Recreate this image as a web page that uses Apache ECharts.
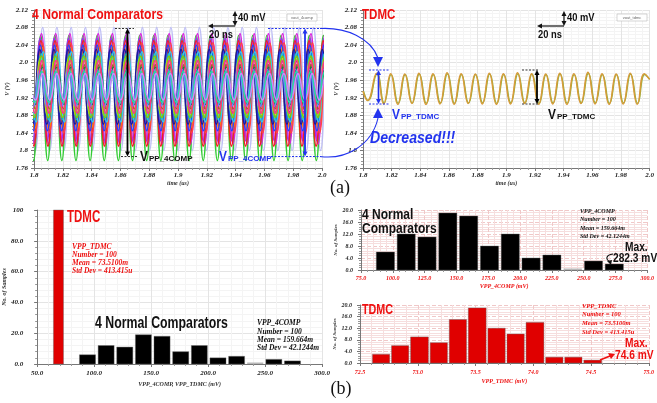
<!DOCTYPE html>
<html><head><meta charset="utf-8">
<script src="https://cdn.jsdelivr.net/npm/echarts@6/dist/echarts.min.js"></script>
<style>html,body{margin:0;padding:0;background:#fff}#c{width:657px;height:403px}</style>
</head><body><div id="c"></div>
<script>
// ================= DATA =================
// waveform axes tick labels
const waveXTicks = ['1.8','1.82','1.84','1.86','1.88','1.9','1.92','1.94','1.96','1.98','2.0'];
const waveYTicks = ['1.76','1.8','1.84','1.88','1.92','1.96','2.0','2.04','2.08','2.12'];
// 4 normal comparators: Monte-Carlo traces (peak level, trough level, first-peak time after 1.8us [ns], period [ns])
const comp4Hi     = [2.080,2.062,2.066,2.055,2.050,2.045,2.035,2.040,2.030,2.020,2.010,2.025,2.000,1.995,2.015,1.990,1.985,2.005,1.980,1.975];
const comp4Lo     = [1.800,1.777,1.815,1.822,1.810,1.840,1.850,1.845,1.860,1.870,1.880,1.865,1.890,1.895,1.875,1.905,1.900,1.885,1.910,1.915];
const comp4PeakNs = [6.0,4.6,5.2,4.2,4.8,5.8,5.5,4.4,4.0,5.0,4.5,6.4,4.7,5.9,5.1,6.2,4.3,5.6,5.3,6.0];
const comp4PerNs  = [9.90,9.82,9.85,9.86,9.80,9.87,9.83,9.85,9.81,9.83,9.86,9.80,9.84,9.82,9.85,9.81,9.84,9.82,9.83,9.85];
// TDMC waveform: start-up samples, then successive peaks / troughs
const tdmcLeadT = [1.8, 1.8032];
const tdmcLeadV = [1.935, 1.914];
const tdmcFirstPeakT = 1.8095;
const tdmcPeriodUs = 0.00983;
const tdmcPeakV   = [1.976,1.975,1.974,1.976,1.975,1.977,1.975,1.974,1.976,1.975,1.977,1.975,1.974,1.976,1.975,1.978,1.975,1.974,1.976,1.975];
const tdmcTroughV = [1.906,1.905,1.907,1.905,1.906,1.905,1.907,1.906,1.905,1.906,1.907,1.905,1.906,1.905,1.907,1.906,1.905,1.906,1.905];
const tdmcPeakV2  = [1.974,1.973,1.973,1.974,1.973,1.975,1.973,1.973,1.974,1.973,1.975,1.974,1.973,1.974,1.973,1.976,1.973,1.973,1.974,1.973];
const tdmcTroughV2= [1.908,1.907,1.908,1.907,1.908,1.907,1.908,1.908,1.907,1.908,1.908,1.907,1.908,1.907,1.908,1.908,1.907,1.908,1.907];
const tdmcEndT = 2.0, tdmcEndV = 1.962;
// histograms
const histEdges4comp  = [86.0,102.4,118.7,135.1,151.4,167.8,184.2,200.5,216.9,233.2,249.6,265.9,282.3];
const histCounts4comp = [6,12,11,19,18,8,12,4,5,0,3,2];
const histEdgesTdmc   = [72.60,72.765,72.93,73.10,73.265,73.43,73.60,73.765,73.93,74.10,74.265,74.43,74.60];
const histCountsTdmc  = [3,6,9,7,15,19,12,10,14,2,2,1];
const histEdgesTdmcAll  = [64.3,73.1];
const histCountsTdmcAll = [100];
const histAllXTicks  = ['50.0','100.0','150.0','200.0','250.0','300.0'];
const histAllYTicks  = ['0.0','20.0','40.0','60.0','80.0','100'];
const hist4XTicks    = ['75.0','100.0','125.0','150.0','175.0','200.0','225.0','250.0','275.0','300.0'];
const histSmYTicks   = ['0.0','4.0','8.0','12.0','16.0','20.0'];
const histTdmcXTicks = ['72.5','73.0','73.5','74.0','74.5','75.0'];
const stats4 = ['VPP_4COMP','Number = 100','Mean = 159.664m','Std Dev = 42.1244m'];
const statsT = ['VPP_TDMC','Number = 100','Mean = 73.5100m','Std Dev = 413.415u'];

// ================= STYLE =================
const comp4Colors = ['#b4b4f4','#33cc33','#dd22dd','#9933ee','#ee2222','#ff4444','#ff8800','#2244ff','#1a1a99','#11aaaa','#dddd22','#33ccee','#ff77bb','#aa6622','#88cc00','#118844','#6688ff','#ff3388','#22ddaa','#cc88ff'];
const RED = '#ee1111', BLUE = '#2233ee';
const serifLbl = {fontFamily:'Liberation Serif', fontStyle:'italic', fontWeight:'bold', fontSize:7, color:'#222'};

// ================= BUILD =================
function compTrace(i) {
  const pts = [];
  const per = comp4PerNs[i] / 1000, half = per / 2;
  let t = 1.8 + comp4PeakNs[i] / 1000 - per;
  for (let k = 0; t <= 2.012; k++, t += half) pts.push([t, k % 2 === 0 ? comp4Hi[i] : comp4Lo[i]]);
  return pts;
}
function tdmcTrace(pk, tr, dt) {
  const pts = tdmcLeadT.map((t, i) => [t + dt, tdmcLeadV[i]]);
  pk.forEach((v, i) => {
    pts.push([tdmcFirstPeakT + i * tdmcPeriodUs + dt, v]);
    if (i < tr.length) pts.push([tdmcFirstPeakT + (i + 0.5) * tdmcPeriodUs + dt, tr[i]]);
  });
  pts.push([tdmcEndT, tdmcEndV]);
  return pts;
}
function bins(edges, counts) { return counts.map((c, i) => [edges[i], edges[i + 1], c]); }
function histRender(fill, gap) {
  return function (params, api) {
    const x0 = api.value(0), x1 = api.value(1), n = api.value(2);
    const p0 = api.coord([x0, 0]), p1 = api.coord([x1, n]);
    const w = p1[0] - p0[0] - gap;
    if (n === 0) return {type:'rect', shape:{x:p0[0] + gap / 2, y:p0[1] - 1.5, width:w, height:1.5}, style:{fill:'#b8b8b8'}};
    return {type:'rect', shape:{x:p0[0] + gap / 2, y:p1[1], width:w, height:p0[1] - p1[1]}, style:{fill:fill, stroke:'#666', lineWidth:0.4}};
  };
}
function tickFmt(labels, min, step) { return v => labels[Math.round((v - min) / step)] || ''; }

function valAxis(o) {
  return Object.assign({
    type:'value',
    axisLine:{show:true, lineStyle:{color:'#777', width:1}},
    axisTick:{show:true, length:3, lineStyle:{color:'#777'}},
    minorTick:{show:true, splitNumber:5, length:2, lineStyle:{color:'#999'}},
    splitLine:{show:true, lineStyle:{color:'#e4e4e4', width:1}},
    minorSplitLine:{show:true, lineStyle:{color:'#f4f4f4', width:1}},
    nameTextStyle:{fontFamily:'Liberation Serif', fontStyle:'italic', fontWeight:'bold', fontSize:6, color:'#333'},
    nameLocation:'middle'
  }, o);
}

const grids = [
  {left:34, top:10, width:288, height:158},
  {left:363, top:10, width:289, height:158},
  {left:37, top:210, width:285, height:154},
  {left:361, top:210, width:291, height:60},
  {left:360, top:305, width:292, height:58}
];

const xAxes = [
  valAxis({gridIndex:0, min:1.8, max:2.0, interval:0.02, axisLabel:Object.assign({formatter:tickFmt(waveXTicks,1.8,0.02), margin:4}, serifLbl), minorTick:{show:true,splitNumber:4,length:2,lineStyle:{color:'#999'}}, name:'time (us)', nameGap:12}),
  valAxis({gridIndex:1, min:1.8, max:2.0, interval:0.02, axisLabel:Object.assign({formatter:tickFmt(waveXTicks,1.8,0.02), margin:4}, serifLbl), minorTick:{show:true,splitNumber:4,length:2,lineStyle:{color:'#999'}}, name:'time (us)', nameGap:12}),
  valAxis({gridIndex:2, min:50, max:300, interval:50, axisLabel:Object.assign({formatter:tickFmt(histAllXTicks,50,50), margin:6}, serifLbl), name:'VPP_4COMP, VPP_TDMC (mV)', nameGap:17}),
  valAxis({gridIndex:3, min:75, max:300, interval:25, axisLabel:Object.assign({formatter:tickFmt(hist4XTicks,75,25), margin:5}, serifLbl, {color:RED, fontSize:6}), name:'VPP_4COMP (mV)', nameGap:13, nameTextStyle:{fontFamily:'Liberation Serif',fontStyle:'italic',fontWeight:'bold',fontSize:6,color:RED}, minorSplitLine:{show:true,lineStyle:{color:'#f6dede'}}, splitLine:{lineStyle:{color:'#f0c8c8',type:'dashed'}}}),
  valAxis({gridIndex:4, min:72.5, max:75, interval:0.5, axisLabel:Object.assign({formatter:tickFmt(histTdmcXTicks,72.5,0.5), margin:6}, serifLbl, {color:RED, fontSize:6}), name:'VPP_TDMC (mV)', nameGap:15, nameTextStyle:{fontFamily:'Liberation Serif',fontStyle:'italic',fontWeight:'bold',fontSize:6,color:RED}, minorSplitLine:{show:true,lineStyle:{color:'#f6dede'}}, splitLine:{lineStyle:{color:'#f0c8c8',type:'dashed'}}})
];
const yAxes = [
  valAxis({gridIndex:0, min:1.76, max:2.12, interval:0.04, axisLabel:Object.assign({formatter:tickFmt(waveYTicks,1.76,0.04), margin:6}, serifLbl), name:'V (V)', nameGap:24}),
  valAxis({gridIndex:1, min:1.76, max:2.12, interval:0.04, axisLabel:Object.assign({formatter:tickFmt(waveYTicks,1.76,0.04), margin:6}, serifLbl), name:'V (V)', nameGap:24}),
  valAxis({gridIndex:2, min:0, max:100, interval:20, axisLabel:Object.assign({formatter:tickFmt(histAllYTicks,0,20), margin:14}, serifLbl), name:'No. of Samples', nameGap:27}),
  valAxis({gridIndex:3, min:0, max:20, interval:4, axisLabel:Object.assign({formatter:tickFmt(histSmYTicks,0,4), margin:8}, serifLbl, {fontSize:6}), name:'No. of Samples', nameGap:22, nameTextStyle:{fontFamily:'Liberation Serif',fontStyle:'italic',fontWeight:'bold',fontSize:5,color:'#333'}, minorSplitLine:{show:true,lineStyle:{color:'#f6dede'}}, splitLine:{lineStyle:{color:'#f0c8c8',type:'dashed'}}}),
  valAxis({gridIndex:4, min:0, max:20, interval:4, axisLabel:Object.assign({formatter:tickFmt(histSmYTicks,0,4), margin:8}, serifLbl, {fontSize:6}), name:'No. of Samples', nameGap:22, nameTextStyle:{fontFamily:'Liberation Serif',fontStyle:'italic',fontWeight:'bold',fontSize:5,color:'#333'}, minorSplitLine:{show:true,lineStyle:{color:'#f6dede'}}, splitLine:{lineStyle:{color:'#f0c8c8',type:'dashed'}}})
];

const series = [];
comp4Hi.forEach((_, i) => series.push({
  type:'line', xAxisIndex:0, yAxisIndex:0, data:compTrace(i), smooth:0.5, symbol:'none', clip:true,
  lineStyle:{color:comp4Colors[i], width:1.6, opacity:i === 0 ? 0.85 : 1}, silent:true, animation:false
}));
series.push({type:'line', xAxisIndex:1, yAxisIndex:1, data:tdmcTrace(tdmcPeakV2, tdmcTroughV2, 0.0003), smooth:0.5, symbol:'none', lineStyle:{color:'#8cb43c', width:1.5}, animation:false});
series.push({type:'line', xAxisIndex:1, yAxisIndex:1, data:tdmcTrace(tdmcPeakV, tdmcTroughV, 0), smooth:0.5, symbol:'none', lineStyle:{color:'#d89a3a', width:1.5}, animation:false});
series.push({type:'custom', xAxisIndex:2, yAxisIndex:2, data:bins(histEdgesTdmcAll, histCountsTdmcAll), renderItem:histRender('#e00000', 0), encode:{x:[0,1], y:2}, animation:false});
series.push({type:'custom', xAxisIndex:2, yAxisIndex:2, data:bins(histEdges4comp, histCounts4comp), renderItem:histRender('#000', 2.6), encode:{x:[0,1], y:2}, animation:false});
series.push({type:'custom', xAxisIndex:3, yAxisIndex:3, data:bins(histEdges4comp, histCounts4comp), renderItem:histRender('#000', 2.6), encode:{x:[0,1], y:2}, animation:false});
series.push({type:'custom', xAxisIndex:4, yAxisIndex:4, data:bins(histEdgesTdmc, histCountsTdmc), renderItem:histRender('#e00000', 1.8), encode:{x:[0,1], y:2}, animation:false});

// ================= ANNOTATIONS =================
const G = [];
const SANS = '"Liberation Sans", Arial, sans-serif';
function txt(x, y, s, size, color, sx, extra) {
  G.push({type:'text', x:x, y:y, scaleX:sx || 1, z:100, style:Object.assign({text:s, font:'bold ' + size + 'px ' + SANS, fill:color, verticalAlign:'middle', textVerticalAlign:'middle', align:'left', textAlign:'left'}, extra || {})});
}
function seg(x1, y1, x2, y2, color, w, dash) {
  G.push({type:'line', z:100, shape:{x1:x1, y1:y1, x2:x2, y2:y2}, style:{stroke:color, lineWidth:w || 1, lineDash:dash || null}});
}
function tri(pts, color) { G.push({type:'polygon', z:100, shape:{points:pts}, style:{fill:color}}); }
function vArrow(x, y1, y2, color, w) {
  seg(x, y1 + 3, x, y2 - 3, color, w);
  tri([[x - 2.5, y1 + 5], [x + 2.5, y1 + 5], [x, y1]], color);
  tri([[x - 2.5, y2 - 5], [x + 2.5, y2 - 5], [x, y2]], color);
}
function vpp(x, y, sub, color) {
  txt(x, y, 'V', 14, color, 0.85);
  txt(x + 9, y + 2, sub, 8, color, 1);
}
function scaleBar(xv, xl) {
  vArrow(xv, 11, 26, '#111', 1.2);
  seg(xl + 3, 26, xv, 26, '#111', 1.2);
  tri([[xl + 5, 23.5], [xl + 5, 28.5], [xl, 26]], '#111');
  txt(xv + 3, 18, '40 mV', 11, '#111', 0.85);
  txt(xl + 1, 35, '20 ns', 11, '#111', 0.85);
}
function legendBox(x, label) {
  G.push({type:'rect', z:100, shape:{x:x, y:14, width:30, height:7}, style:{fill:'#fff', stroke:'#bbb', lineWidth:0.6}});
  G.push({type:'text', z:101, x:x + 15, y:17.5, style:{text:label, font:'4px ' + SANS, fill:'#666', align:'center', textAlign:'center', verticalAlign:'middle', textVerticalAlign:'middle'}});
}
function statBlock(x, y0, dy, lines, size, color) {
  lines.forEach((s, i) => G.push({type:'text', z:100, x:x, y:y0 + i * dy, style:{text:s, font:'italic bold ' + size + 'px "Liberation Serif", serif', fill:color, verticalAlign:'middle', textVerticalAlign:'middle'}}));
}

// (a) left
txt(32, 15, '4 Normal Comparators', 15, RED, 0.81);
scaleBar(235, 208);
legendBox(287, 'vout_4comp');
seg(115, 28.5, 134, 28.5, '#333', 1, [2, 1.5]);
seg(121, 156.5, 138, 156.5, '#333', 1, [2, 1.5]);
vArrow(127.5, 28.5, 156.5, '#000', 1.8);
vpp(140, 157, 'PP_4COMP', '#111');
seg(268, 28.5, 321, 28.5, BLUE, 1, [2, 1.5]);
seg(271, 156.5, 321, 156.5, BLUE, 1, [2, 1.5]);
vArrow(305, 28.5, 156.5, BLUE, 1.8);
vpp(219, 157, 'PP_4COMP', BLUE);
G.push({type:'bezierCurve', z:100, shape:{x1:320, y1:28.5, cpx1:346, cpy1:27, cpx2:371, cpy2:38, x2:378, y2:58}, style:{stroke:BLUE, lineWidth:1.1, fill:null}});
tri([[373, 57], [383, 57], [378, 67]], BLUE);
G.push({type:'bezierCurve', z:100, shape:{x1:320, y1:156.5, cpx1:346, cpy1:160, cpx2:372, cpy2:145, x2:378, y2:118}, style:{stroke:BLUE, lineWidth:1.1, fill:null}});
tri([[373, 118], [383, 118], [378, 108]], BLUE);
// (a) right
txt(362, 15, 'TDMC', 15, RED, 0.77);
scaleBar(564, 537);
legendBox(617, 'vout_tdmc');
seg(369, 70, 389, 70, BLUE, 1, [2, 1.5]);
seg(369, 104, 389, 104, BLUE, 1, [2, 1.5]);
vArrow(378.5, 70, 104, BLUE, 1.6);
vpp(392, 115, 'PP_TDMC', BLUE);
G.push({type:'text', z:100, x:370, y:138.5, scaleX:0.88, style:{text:'Decreased!!!', font:'italic bold 16px ' + SANS, fill:BLUE, verticalAlign:'middle', textVerticalAlign:'middle'}});
seg(522, 70, 539, 70, '#333', 1, [2, 1.5]);
seg(522, 104, 539, 104, '#333', 1, [2, 1.5]);
vArrow(537, 70, 104, '#000', 1.8);
vpp(548, 115, 'PP_TDMC', '#111');
G.push({type:'text', z:100, x:340, y:188, style:{text:'(a)', font:'18px "Liberation Serif", serif', fill:'#111', align:'center', textAlign:'center', verticalAlign:'middle', textVerticalAlign:'middle'}});

// (b) left
txt(67, 217.5, 'TDMC', 16, RED, 0.72);
statBlock(72, 247, 8, statsT, 7.5, RED);
txt(95, 324, '4 Normal Comparators', 16, '#111', 0.77);
statBlock(257, 323.5, 8.3, stats4, 7.5, '#111');
G.push({type:'text', z:100, x:341, y:389, style:{text:'(b)', font:'18px "Liberation Serif", serif', fill:'#111', align:'center', textAlign:'center', verticalAlign:'middle', textVerticalAlign:'middle'}});
// (b) right top
txt(362, 214.5, '4 Normal', 15, '#111', 0.8);
txt(362, 229, 'Comparators', 15, '#111', 0.8);
statBlock(580, 211, 8.6, stats4, 6, '#111');
txt(625, 247.5, 'Max.', 12, '#111', 0.85);
txt(613, 258.5, '282.3 mV', 12, '#111', 0.85);
G.push({type:'bezierCurve', z:100, shape:{x1:613, y1:254, cpx1:606, cpy1:255, cpx2:605, cpy2:259, x2:610, y2:262}, style:{stroke:'#111', lineWidth:1.1, fill:null}});
tri([[607, 261], [612, 260], [611, 265]], '#111');
// (b) right bottom
txt(362, 310.5, 'TDMC', 14, RED, 0.77);
statBlock(582, 306, 8.7, statsT, 6.5, RED);
txt(625, 343.5, 'Max.', 12, RED, 0.85);
txt(615, 356, '74.6 mV', 12, RED, 0.85);
seg(600, 360, 610, 356, RED, 1.6);
tri([[608, 353], [611, 359], [615, 354]], RED);

const chart = echarts.init(document.getElementById('c'), null, {renderer:'canvas'});
chart.setOption({
  animation:false,
  backgroundColor:'#fff',
  grid:grids,
  xAxis:xAxes,
  yAxis:yAxes,
  series:series,
  graphic:{elements:G}
});
</script>
</body></html>
